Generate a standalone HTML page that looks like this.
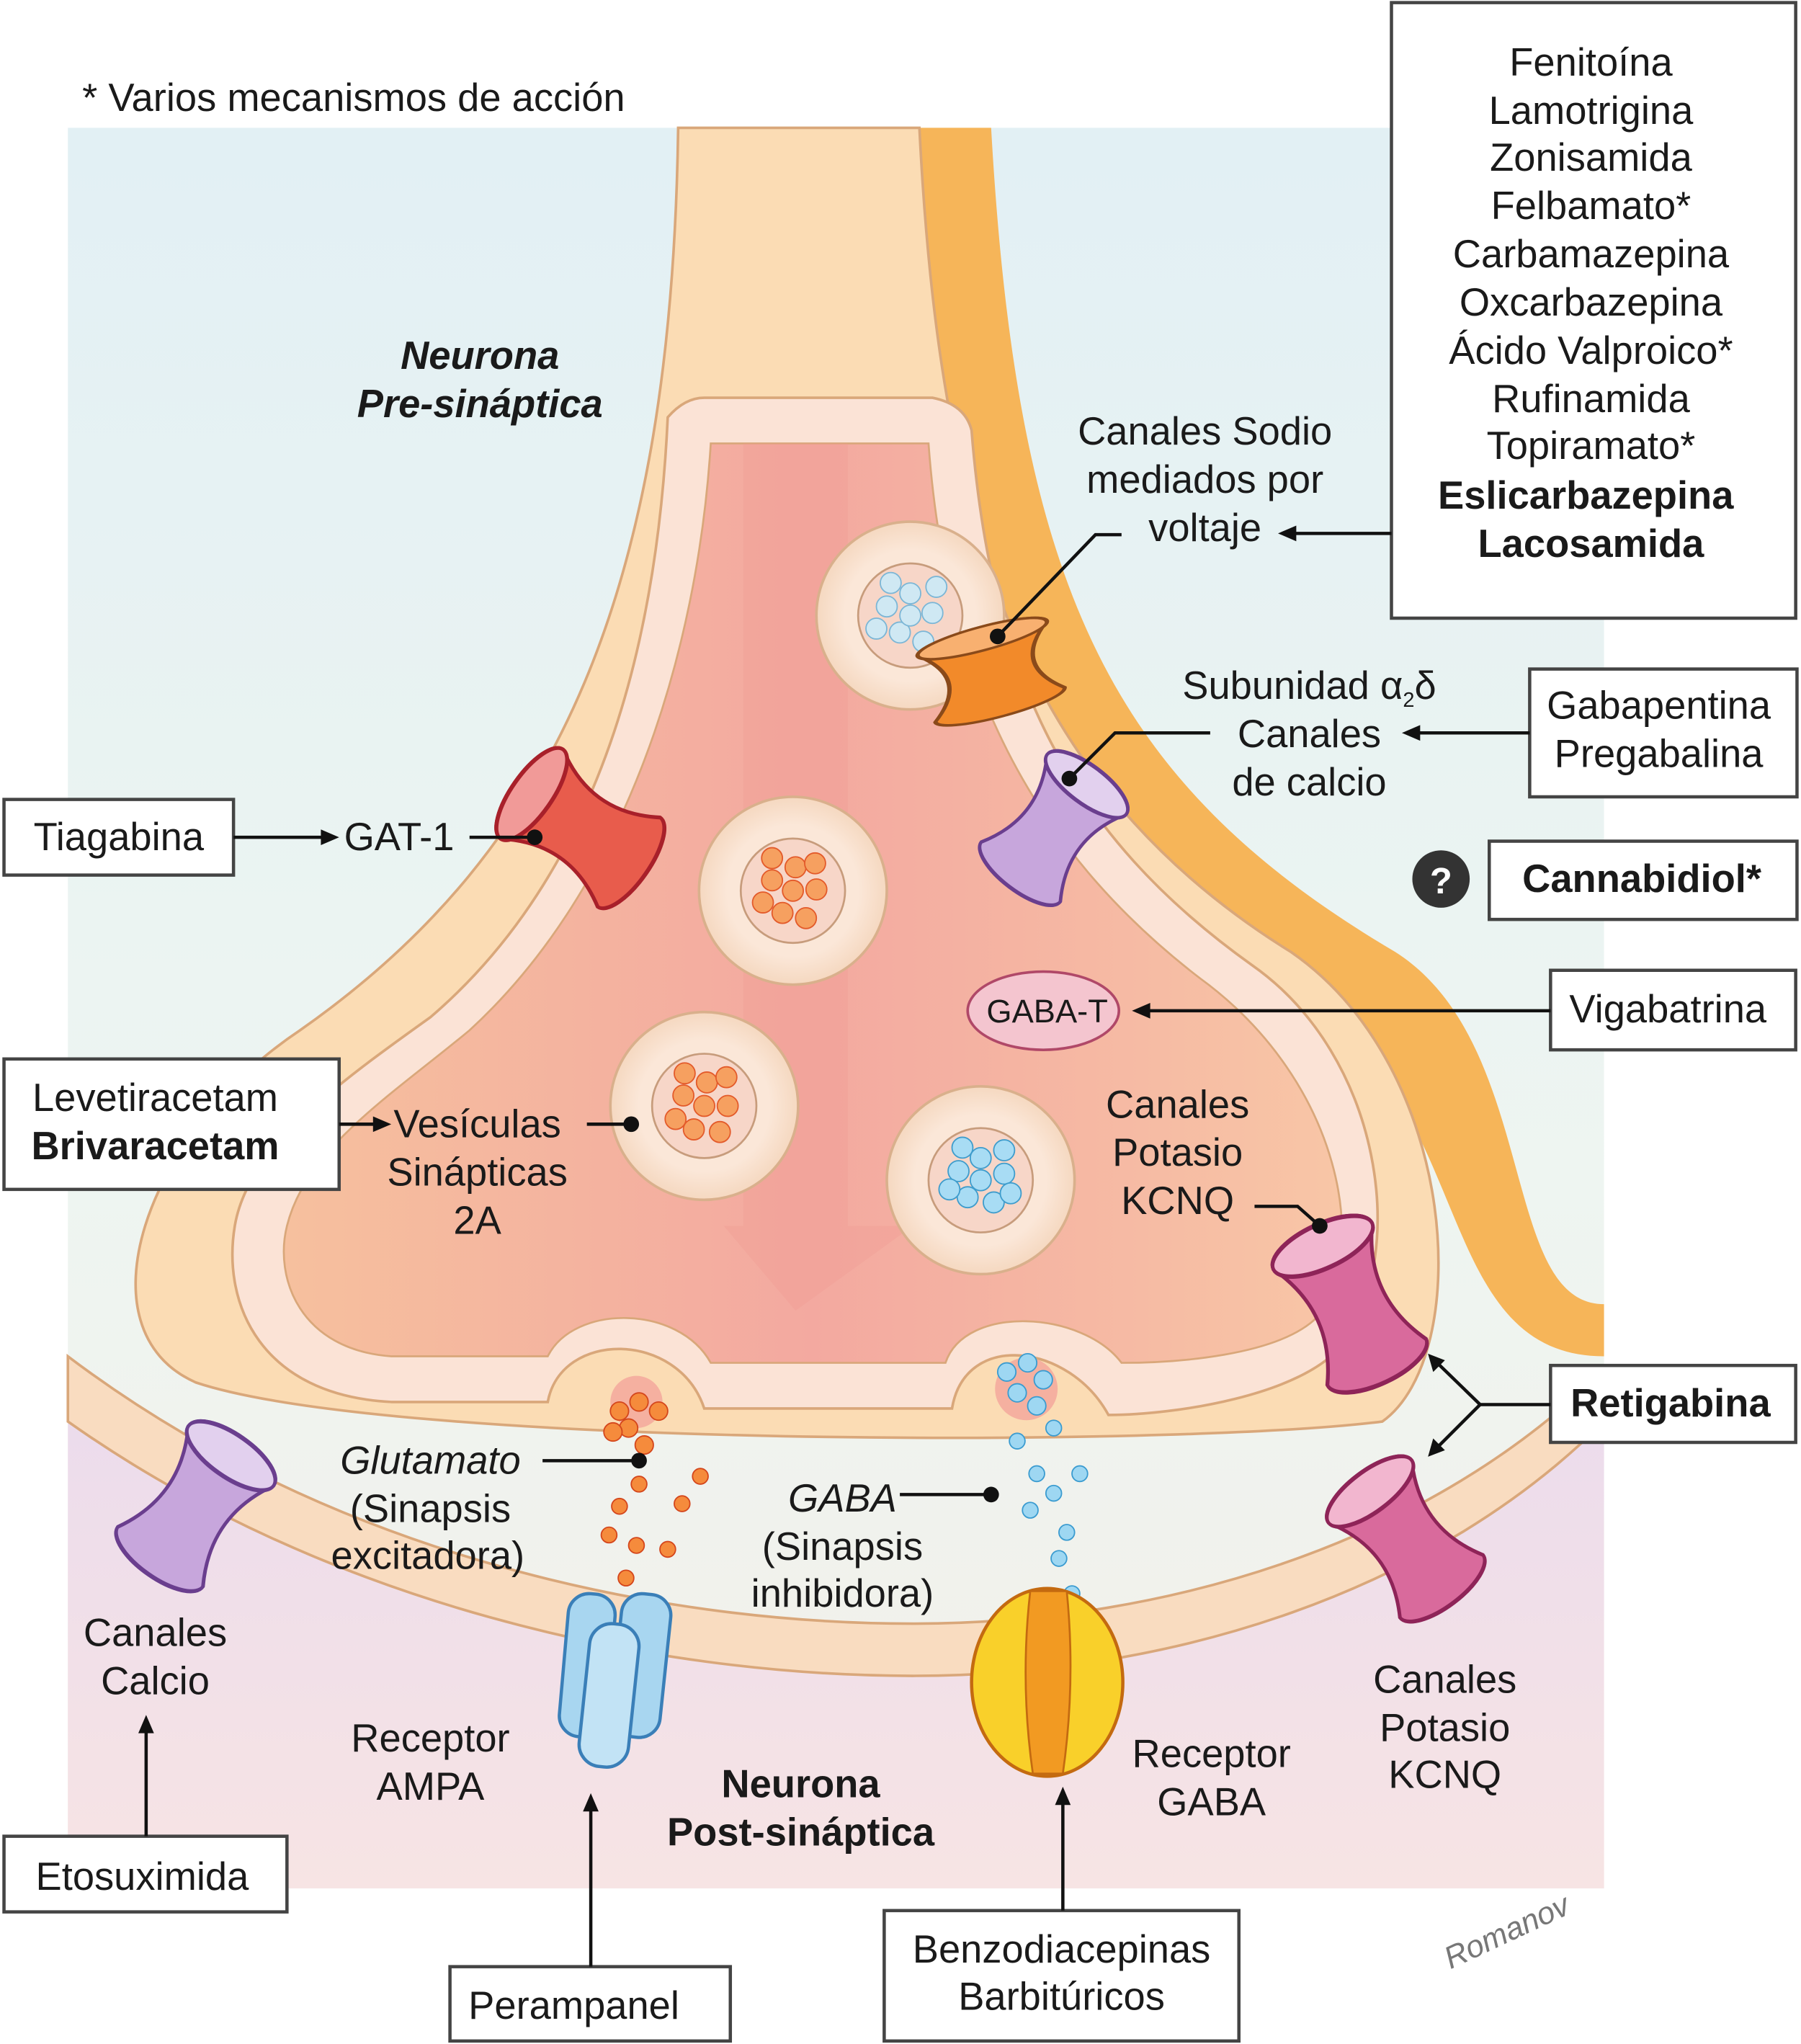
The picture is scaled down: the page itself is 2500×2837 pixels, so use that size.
<!DOCTYPE html>
<html><head><meta charset="utf-8"><style>
html,body{margin:0;padding:0;background:#fff}
svg{display:block}
text{font-family:"Liberation Sans",sans-serif;fill:#1a1a1a}
</style></head><body>
<svg width="2500" height="2837" viewBox="0 0 1381 1567.3" xmlns="http://www.w3.org/2000/svg">
<defs>
<linearGradient id="bg" x1="0" y1="0" x2="0" y2="1">
<stop offset="0" stop-color="#e2f0f4"/><stop offset="0.6" stop-color="#eef5f1"/><stop offset="1" stop-color="#f3efe9"/></linearGradient>
<linearGradient id="post" x1="0" y1="0" x2="0" y2="1">
<stop offset="0" stop-color="#ecdcec"/><stop offset="1" stop-color="#f7e4e4"/></linearGradient>
<linearGradient id="cyto" x1="0" y1="0" x2="1" y2="0">
<stop offset="0" stop-color="#f6c09e"/><stop offset="0.5" stop-color="#f3a9a0"/><stop offset="1" stop-color="#f8c6a6"/></linearGradient>
<radialGradient id="ves" cx="0.5" cy="0.5" r="0.5"><stop offset="0.7" stop-color="#fbe7d8"/><stop offset="1" stop-color="#f5d8c0"/></radialGradient>
<path id="ch" d="M-38,-35 Q-12,0 -38,35 A38,12 0 0 0 38,35 Q12,0 38,-35 A38,12 0 0 0 -38,-35 Z"/>
</defs>
<rect x="52" y="98" width="1178" height="1350" fill="url(#bg)"/>
<!-- postsynaptic -->
<path d="M52,1090 C250,1230 500,1285 700,1285 C900,1285 1100,1220 1230,1090 L1230,1448 L52,1448 Z" fill="url(#post)"/>
<path d="M52,1040 C250,1190 500,1245 700,1245 C900,1245 1100,1180 1230,1050 L1230,1090 C1100,1220 900,1285 700,1285 C500,1285 250,1230 52,1090 Z" fill="#f9dcc0" stroke="#d9a77a" stroke-width="2"/>
<!-- orange glial strip right -->
<path d="M705,98 L760,98 C780,450 850,600 1070,730 C1180,800 1150,1000 1230,1000 L1230,1040 C1100,1040 1130,850 1010,780 C780,650 720,450 705,98 Z" fill="#f6b559"/>
<!-- presynaptic outer -->
<path d="M520,98 L705,98 C720,400 780,600 990,730 C1120,820 1130,1040 1060,1090 C900,1110 300,1110 150,1060 C60,1020 110,870 230,790 C430,650 515,450 520,98 Z" fill="#fbdcb4" stroke="#d9a77a" stroke-width="2"/>
<!-- inner membrane -->
<path d="M512,320 Q525,305 540,305 L715,305 Q740,310 745,330 C760,520 820,640 960,740 C1060,810 1080,960 1030,1030 C1000,1070 900,1085 850,1085 C820,1030 740,1020 730,1080 L540,1080 C520,1020 430,1020 420,1075 L300,1075 C200,1070 170,1000 180,940 C190,880 260,830 330,780 C470,660 505,470 512,320 Z" fill="#fbe3d6" stroke="#d9a77a" stroke-width="2"/>
<path d="M545,340 L712,340 C725,520 790,650 920,750 C1030,830 1050,960 1010,1010 C980,1040 900,1045 860,1045 C830,1005 740,1000 725,1045 L545,1045 C520,1000 440,1000 420,1040 L300,1040 C230,1035 210,980 220,940 C235,880 300,840 360,790 C480,680 535,500 545,340 Z" fill="url(#cyto)" stroke="#d9a77a" stroke-width="1.5"/>
<path d="M570,340 L650,340 L650,940 L700,940 L610,1005 L555,940 L570,940 Z" fill="#f19a92" opacity="0.35"/>
<circle cx="488" cy="1075" r="20" fill="#f5b0a0"/><circle cx="787" cy="1065" r="24" fill="#f5b0a0"/>
<!-- vesicles -->
<g stroke="#d9b08c" stroke-width="2" fill="url(#ves)">
<circle cx="698" cy="472" r="72"/><circle cx="608" cy="683" r="72"/><circle cx="540" cy="848" r="72"/><circle cx="752" cy="905" r="72"/>
</g>
<g stroke="#c79c7c" stroke-width="1.5" fill="#f7d6c8">
<circle cx="698" cy="472" r="40"/><circle cx="608" cy="683" r="40"/><circle cx="540" cy="848" r="40"/><circle cx="752" cy="905" r="40"/>
</g>
<g fill="#cfe8f3" stroke="#7bb6d6"><circle cx="680" cy="465" r="8"/><circle cx="698" cy="455" r="8"/><circle cx="715" cy="470" r="8"/><circle cx="690" cy="485" r="8"/><circle cx="708" cy="492" r="8"/><circle cx="672" cy="482" r="8"/><circle cx="698" cy="472" r="8"/><circle cx="718" cy="450" r="8"/><circle cx="683" cy="447" r="8"/></g>
<g fill="#a8dcf4" stroke="#3e9ccc"><circle cx="735" cy="898" r="8"/><circle cx="752" cy="888" r="8"/><circle cx="770" cy="900" r="8"/><circle cx="742" cy="918" r="8"/><circle cx="762" cy="922" r="8"/><circle cx="728" cy="912" r="8"/><circle cx="752" cy="905" r="8"/><circle cx="770" cy="882" r="8"/><circle cx="738" cy="880" r="8"/><circle cx="775" cy="915" r="8"/></g>
<g fill="#f6a060" stroke="#e35a2a"><circle cx="592" cy="675" r="8"/><circle cx="610" cy="665" r="8"/><circle cx="626" cy="682" r="8"/><circle cx="600" cy="700" r="8"/><circle cx="618" cy="704" r="8"/><circle cx="585" cy="692" r="8"/><circle cx="608" cy="683" r="8"/><circle cx="625" cy="662" r="8"/><circle cx="592" cy="658" r="8"/>
<circle cx="524" cy="840" r="8"/><circle cx="542" cy="830" r="8"/><circle cx="558" cy="848" r="8"/><circle cx="532" cy="866" r="8"/><circle cx="552" cy="868" r="8"/><circle cx="518" cy="858" r="8"/><circle cx="540" cy="848" r="8"/><circle cx="557" cy="826" r="8"/><circle cx="525" cy="823" r="8"/></g>
<!-- released NT -->
<g fill="#f58b3c" stroke="#d4461c"><circle cx="475" cy="1082" r="7"/><circle cx="490" cy="1075" r="7"/><circle cx="505" cy="1082" r="7"/><circle cx="482" cy="1095" r="7"/><circle cx="470" cy="1098" r="7"/><circle cx="494" cy="1108" r="7"/><circle cx="490" cy="1138" r="6"/><circle cx="475" cy="1155" r="6"/><circle cx="523" cy="1153" r="6"/><circle cx="537" cy="1132" r="6"/><circle cx="467" cy="1177" r="6"/><circle cx="488" cy="1185" r="6"/><circle cx="512" cy="1188" r="6"/><circle cx="480" cy="1210" r="6"/></g>
<g fill="#9ed7f2" stroke="#3a9bd0"><circle cx="772" cy="1052" r="7"/><circle cx="788" cy="1045" r="7"/><circle cx="800" cy="1058" r="7"/><circle cx="780" cy="1068" r="7"/><circle cx="795" cy="1078" r="7"/><circle cx="808" cy="1095" r="6"/><circle cx="780" cy="1105" r="6"/><circle cx="795" cy="1130" r="6"/><circle cx="808" cy="1145" r="6"/><circle cx="828" cy="1130" r="6"/><circle cx="790" cy="1158" r="6"/><circle cx="818" cy="1175" r="6"/><circle cx="812" cy="1195" r="6"/><circle cx="822" cy="1222" r="6"/></g>
<!-- channels -->
<g stroke-width="2.5">
<g transform="translate(760,515) rotate(-15) scale(1.35,0.75)"><use href="#ch" fill="#f28a2a" stroke="#8a4a1a"/><ellipse cx="0" cy="-35" rx="38" ry="12" fill="#f8b070" stroke="#8a4a1a"/></g>
<g transform="translate(445,635) rotate(-55) scale(1.1,1.3)"><use href="#ch" fill="#e85c4c" stroke="#a8202a"/><ellipse cx="0" cy="-35" rx="38" ry="12" fill="#f19a98" stroke="#a8202a"/></g>
<g transform="translate(808,635) rotate(37) scale(1,1.2)"><use href="#ch" fill="#c7a6dc" stroke="#6a3e8e"/><ellipse cx="0" cy="-35" rx="38" ry="12" fill="#e2d0ee" stroke="#6a3e8e"/></g>
<g transform="translate(1035,1000) rotate(-25) scale(1.1,1.4)"><use href="#ch" fill="#d96a9c" stroke="#8e2458"/><ellipse cx="0" cy="-35" rx="38" ry="12" fill="#f2b6cf" stroke="#8e2458"/></g>
<g transform="translate(1078,1180) rotate(-37) scale(1.05,1.3)"><use href="#ch" fill="#d96a9c" stroke="#8e2458"/><ellipse cx="0" cy="-35" rx="38" ry="12" fill="#f2b6cf" stroke="#8e2458"/></g>
<g transform="translate(150,1155) rotate(35) scale(1.05,1.35)"><use href="#ch" fill="#c7a6dc" stroke="#6a3e8e"/><ellipse cx="0" cy="-35" rx="38" ry="12" fill="#e2d0ee" stroke="#6a3e8e"/></g>
<rect x="432" y="1222" width="36" height="110" rx="16" fill="#a8d6f0" stroke="#3a7fb8" transform="rotate(5 450 1280)"/>
<rect x="472" y="1222" width="38" height="110" rx="16" fill="#a8d6f0" stroke="#3a7fb8" transform="rotate(6 490 1280)"/>
<rect x="448" y="1245" width="38" height="110" rx="17" fill="#c2e3f5" stroke="#3a7fb8" transform="rotate(6 467 1300)"/>
<ellipse cx="803" cy="1290" rx="58" ry="72" fill="#f9d02a" stroke="#c46a10"/>
<path d="M790,1220 Q782,1290 792,1360 L815,1360 Q825,1290 818,1220 Z" fill="#f29a22" stroke="#c46a10" stroke-width="1.5"/>
</g>
<ellipse cx="800" cy="775" rx="58" ry="30" fill="#f4c5cf" stroke="#b04868" stroke-width="2"/>
<!-- boxes -->
<g fill="#fff" stroke="#444" stroke-width="2.5">
<rect x="1067" y="2" width="310" height="472"/>
<rect x="1173" y="513" width="205" height="98"/>
<rect x="1142" y="645" width="236" height="60"/>
<rect x="1189" y="744" width="188" height="61"/>
<rect x="1189" y="1047" width="188" height="59"/>
<rect x="3" y="613" width="176" height="58"/>
<rect x="3" y="812" width="257" height="100"/>
<rect x="3" y="1408" width="217" height="58"/>
<rect x="345" y="1508" width="215" height="57"/>
<rect x="678" y="1465" width="272" height="100"/>
</g>
<circle cx="1105" cy="674" r="22" fill="#333"/>
<text x="1105" y="685" text-anchor="middle" font-size="28" font-weight="bold" style="fill:#fff">?</text>
<!-- connectors -->
<g stroke="#111" stroke-width="2.5" fill="none">
<line x1="1067" y1="409" x2="990" y2="409"/>
<polyline points="860,410 840,410 765,488"/>
<line x1="1173" y1="562" x2="1083" y2="562"/>
<polyline points="928,562 855,562 820,597"/>
<line x1="179" y1="642" x2="250" y2="642"/>
<line x1="360" y1="642" x2="410" y2="642"/>
<line x1="1189" y1="775" x2="877" y2="775"/>
<line x1="260" y1="862" x2="290" y2="862"/>
<line x1="450" y1="862" x2="484" y2="862"/>
<polyline points="962,925 995,925 1012,940"/>
<polyline points="1189,1077 1135,1077 1100,1043"/>
<polyline points="1135,1077 1100,1112"/>
<line x1="416" y1="1120" x2="490" y2="1120"/>
<line x1="690" y1="1146" x2="760" y2="1146"/>
<line x1="112" y1="1408" x2="112" y2="1325"/>
<line x1="453" y1="1508" x2="453" y2="1385"/>
<line x1="815" y1="1465" x2="815" y2="1380"/>
</g>
<g fill="#111">
<path d="M980,409 l14,-6 v12 z"/><path d="M1075,562 l14,-6 v12 z"/><path d="M260,642 l-14,-6 v12 z"/>
<path d="M868,775 l14,-6 v12 z"/><path d="M300,862 l-14,-6 v12 z"/>
<path d="M1095,1038 l4,14 l9,-9 z"/><path d="M1095,1117 l4,-14 l9,9 z"/>
<path d="M112,1315 l-6,14 h12 z"/><path d="M453,1375 l-6,14 h12 z"/><path d="M815,1370 l-6,14 h12 z"/>
<circle cx="765" cy="488" r="6"/><circle cx="820" cy="597" r="6"/><circle cx="410" cy="642" r="6"/><circle cx="484" cy="862" r="6"/><circle cx="1012" cy="940" r="6"/><circle cx="490" cy="1120" r="6"/><circle cx="760" cy="1146" r="6"/>
</g>
<!-- texts -->
<g font-size="30">
<text x="63" y="85">* Varios mecanismos de acción</text>
<g text-anchor="middle">
<text x="1220" y="58">Fenitoína</text><text x="1220" y="95">Lamotrigina</text><text x="1220" y="131">Zonisamida</text><text x="1220" y="168">Felbamato*</text><text x="1220" y="205">Carbamazepina</text><text x="1220" y="242">Oxcarbazepina</text><text x="1220" y="279">Ácido Valproico*</text><text x="1220" y="316">Rufinamida</text><text x="1220" y="352">Topiramato*</text>
<text x="1216" y="390" font-weight="bold">Eslicarbazepina</text><text x="1220" y="427" font-weight="bold">Lacosamida</text>
<text x="368" y="283" font-weight="bold" font-style="italic">Neurona</text><text x="368" y="320" font-weight="bold" font-style="italic">Pre-sináptica</text>
<text x="924" y="341">Canales Sodio</text><text x="924" y="378">mediados por</text><text x="924" y="415">voltaje</text>
<text x="1272" y="551">Gabapentina</text><text x="1272" y="588">Pregabalina</text>
<text x="1004" y="536">Subunidad α<tspan font-size="16" dy="6">2</tspan><tspan dy="-6">δ</tspan></text><text x="1004" y="573">Canales</text><text x="1004" y="610">de calcio</text>
<text x="91" y="652">Tiagabina</text><text x="306" y="652">GAT-1</text>
<text x="1259" y="684" font-weight="bold">Cannabidiol*</text>
<text x="803" y="784" font-size="25">GABA-T</text>
<text x="1279" y="784">Vigabatrina</text>
<text x="119" y="852">Levetiracetam</text><text x="119" y="889" font-weight="bold">Brivaracetam</text>
<text x="366" y="872">Vesículas</text><text x="366" y="909">Sinápticas</text><text x="366" y="946">2A</text>
<text x="903" y="857">Canales</text><text x="903" y="894">Potasio</text><text x="903" y="931">KCNQ</text>
<text x="1281" y="1086" font-weight="bold">Retigabina</text>
<text x="330" y="1130" font-style="italic">Glutamato</text><text x="330" y="1167">(Sinapsis</text><text x="328" y="1203">excitadora)</text>
<text x="646" y="1159" font-style="italic">GABA</text><text x="646" y="1196">(Sinapsis</text><text x="646" y="1232">inhibidora)</text>
<text x="119" y="1262">Canales</text><text x="119" y="1299">Calcio</text>
<text x="330" y="1343">Receptor</text><text x="330" y="1380">AMPA</text>
<text x="614" y="1378" font-weight="bold">Neurona</text><text x="614" y="1415" font-weight="bold">Post-sináptica</text>
<text x="929" y="1355">Receptor</text><text x="929" y="1392">GABA</text>
<text x="1108" y="1298">Canales</text><text x="1108" y="1335">Potasio</text><text x="1108" y="1371">KCNQ</text>
<text x="109" y="1449">Etosuximida</text>
<text x="440" y="1548">Perampanel</text>
<text x="814" y="1505">Benzodiacepinas</text><text x="814" y="1541">Barbitúricos</text>
</g>
<text x="1100" y="1495" font-size="24" font-style="italic" transform="rotate(-25 1140 1475)" style="fill:#777">Romanov</text>
</g>
</svg>
</body></html>
